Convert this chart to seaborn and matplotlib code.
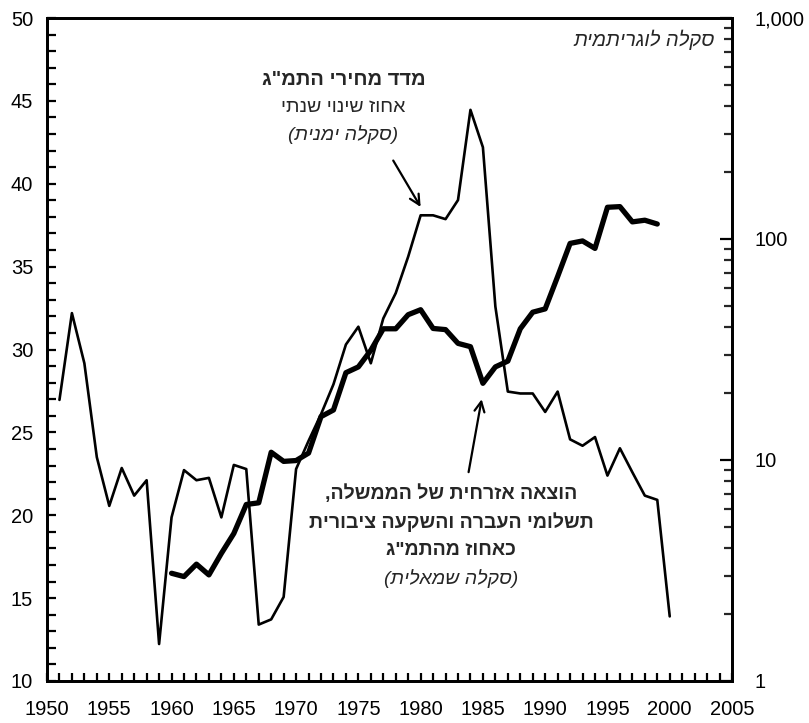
import numpy as np
import pandas as pd
import matplotlib
matplotlib.use("Agg")
import matplotlib.pyplot as plt
from matplotlib.ticker import MultipleLocator, FixedLocator, LogLocator, FuncFormatter, NullFormatter
import seaborn as sns

# ---------------- data ----------------
cpi_years = list(range(1951, 2001))
cpi_values = [18.7, 46.2, 27.4, 10.3, 6.2, 9.2, 6.9, 8.1, 1.47, 5.5,
              9.0, 8.1, 8.3, 5.5, 9.5, 9.1, 1.8, 1.9, 2.4, 9.1,
              12.2, 16.1, 22.0, 33.3, 40.1, 27.4, 43.7, 56.9, 83.2, 128,
              128, 123, 150, 384, 260, 49.5, 20.4, 20.0, 20.0, 16.5,
              20.4, 12.4, 11.6, 12.7, 8.5, 11.3, 8.8, 6.9, 6.6, 1.96]

exp_years = list(range(1960, 2000))
exp_values = [16.5, 16.3, 17.05, 16.4, 17.7, 18.9, 20.65, 20.75, 23.8, 23.25,
              23.3, 23.75, 25.95, 26.35, 28.6, 28.95, 29.95, 31.25, 31.25, 32.1,
              32.4, 31.27, 31.2, 30.37, 30.17, 27.96, 28.95, 29.3, 31.25, 32.25,
              32.45, 34.4, 36.4, 36.55, 36.1, 38.58, 38.62, 37.7, 37.8, 37.57]

left_ticks = [10, 15, 20, 25, 30, 35, 40, 45, 50]
right_ticks = [1, 10, 100, 1000]
x_ticks = list(range(1950, 2006, 5))

label_cpi = ['מדד מחירי התמ"ג', 'אחוז שינוי שנתי', '(סקלה ימנית)']
label_exp = ['הוצאה אזרחית של הממשלה,', 'תשלומי העברה והשקעה ציבורית',
             'כאחוז מהתמ"ג', '(סקלה שמאלית)']
label_log = 'סקלה לוגריתמית'


def rtl(s):
    return s[::-1].translate(str.maketrans('()', ')('))


df_cpi = pd.DataFrame({'year': cpi_years, 'cpi': cpi_values})
df_exp = pd.DataFrame({'year': exp_years, 'exp': exp_values})

# ---------------- style ----------------
sns.set_theme(style="white")
FAM = ['Liberation Sans', 'DejaVu Sans']
plt.rcParams['font.family'] = FAM

fig = plt.figure(figsize=(8.09, 7.23), dpi=100)
ax = fig.add_axes([47 / 809, 1 - 681 / 723, (732 - 47) / 809, (681 - 18) / 723])
ax2 = ax.twinx()

sns.lineplot(data=df_exp, x='year', y='exp', ax=ax, color='black', lw=3.8)
sns.lineplot(data=df_cpi, x='year', y='cpi', ax=ax2, color='black', lw=1.9)

ax.set_xlim(1950, 2005)
ax.set_ylim(10, 50)
ax2.set_yscale('log')
ax2.set_ylim(1, 1000)

for a in (ax, ax2):
    a.set_xlabel('')
    a.set_ylabel('')
    for s in a.spines.values():
        s.set_linewidth(2)
        s.set_color('black')

ax.xaxis.set_major_locator(FixedLocator(x_ticks))
ax.xaxis.set_minor_locator(MultipleLocator(1))
ax.yaxis.set_major_locator(FixedLocator(left_ticks))
ax.yaxis.set_minor_locator(MultipleLocator(1))
ax2.yaxis.set_major_locator(FixedLocator(right_ticks))
ax2.yaxis.set_minor_locator(LogLocator(base=10, subs=np.arange(2, 10)))
ax2.yaxis.set_minor_formatter(NullFormatter())
ax2.yaxis.set_major_formatter(FuncFormatter(lambda v, p: f"{int(v):,}"))

TS = 14.5
ax.tick_params(axis='y', which='both', direction='in', left=True, right=False,
               length=6.5, width=1.6, labelsize=TS, pad=10, colors='black')
ax.tick_params(axis='x', which='both', direction='in', bottom=True, top=False,
               length=6, width=1.6, labelsize=TS, pad=14, colors='black')
ax2.tick_params(axis='y', which='major', direction='in', right=True, left=False,
                length=9, width=1.6, labelsize=TS, pad=16, colors='black')
ax2.tick_params(axis='y', which='minor', direction='in', right=True, left=False,
                length=6, width=1.6)

# ---------------- annotations ----------------
FS = 14
tx = 1973.8
ax.text(tx, 46.26, rtl(label_cpi[0]), ha='center', va='center', fontsize=FS + 0.5,
        fontweight='bold', family=FAM)
ax.text(tx, 44.63, rtl(label_cpi[1]), ha='center', va='center', fontsize=FS, family=FAM)
ax.text(tx, 42.94, rtl(label_cpi[2]), ha='center', va='center', fontsize=FS,
        style='italic', family=FAM)
ax.annotate('', xy=(1980.0, 38.6), xytext=(1977.8, 41.4),
            arrowprops=dict(arrowstyle='->', color='black', lw=1.6,
                            mutation_scale=18, shrinkA=0, shrinkB=0))

bx = 1982.45
ys = [21.33, 19.61, 17.9, 16.2]
for i, (t, y) in enumerate(zip(label_exp, ys)):
    kw = dict(fontweight='bold') if i < 3 else dict(style='italic')
    ax.text(bx, y, rtl(t), ha='center', va='center', fontsize=FS, family=FAM, **kw)
ax.annotate('', xy=(1984.9, 27.0), xytext=(1983.85, 22.6),
            arrowprops=dict(arrowstyle='->', color='black', lw=1.6,
                            mutation_scale=18, shrinkA=0, shrinkB=0))

ax.text(0.975, 0.967, rtl(label_log), transform=ax.transAxes, ha='right',
        va='center', fontsize=FS + 0.5, style='italic', family=FAM)

fig.savefig('out.png', dpi=100)
